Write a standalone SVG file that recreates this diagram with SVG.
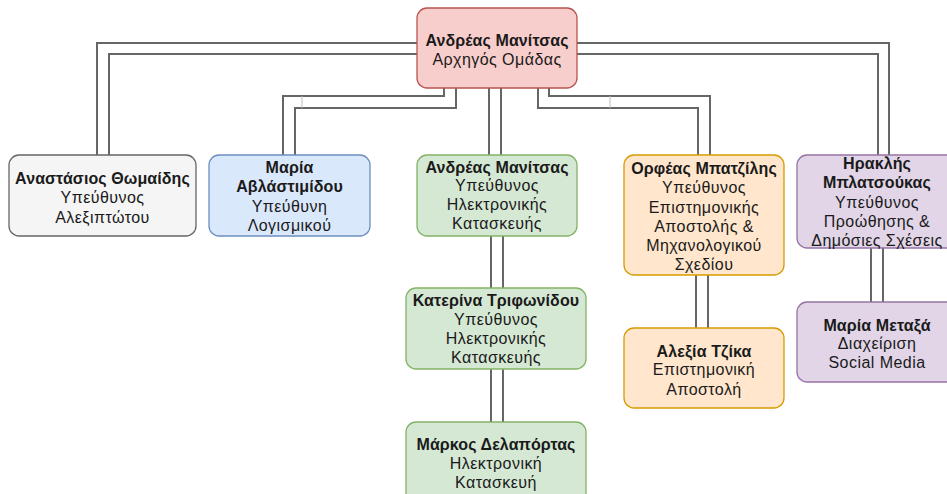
<svg xmlns="http://www.w3.org/2000/svg" width="947" height="494" viewBox="0 0 947 494">
<style>
.t{font-family:"Liberation Sans",Arial,sans-serif;font-size:16px;letter-spacing:0.45px;fill:#1a1a1a;text-anchor:middle}
.b{font-weight:bold;letter-spacing:0.1px}
.c{fill:none;stroke:#666;stroke-width:2}
.j{fill:none;stroke:#bbb;stroke-width:1}
.red{fill:#f8cecc;stroke:#b85450;stroke-width:1.3}
.gray{fill:#f5f5f5;stroke:#666;stroke-width:1.3}
.blue{fill:#dae8fc;stroke:#6c8ebf;stroke-width:1.3}
.green{fill:#d5e8d4;stroke:#82b366;stroke-width:1.3}
.orange{fill:#ffe6cc;stroke:#d79b00;stroke-width:1.3}
.purple{fill:#e1d5e7;stroke:#9673a6;stroke-width:1.3}
</style>
<rect width="947" height="494" fill="#fff"/>
<g id="connectors">
  <path class="c" d="M417 43 H97 V155"/>
  <path class="c" d="M417 54 H109 V155"/>
  <path class="c" d="M444 88 V96 H283 V155"/>
  <path class="c" d="M456 88 V108 H295 V155"/>
  <path class="j" d="M302 96 V108"/>
  <path class="c" d="M489 88 V155"/>
  <path class="c" d="M501 88 V155"/>
  <path class="c" d="M538 88 V108 H698 V155"/>
  <path class="c" d="M549 88 V96 H710 V155"/>
  <path class="j" d="M610 96 V108"/>
  <path class="c" d="M577 43 H889 V155"/>
  <path class="c" d="M577 54 H878 V155"/>
  <path class="c" d="M491 236 V288"/>
  <path class="c" d="M503 236 V288"/>
  <path class="c" d="M491 369 V422"/>
  <path class="c" d="M503 369 V422"/>
  <path class="c" d="M696 275 V328"/>
  <path class="c" d="M708 275 V328"/>
  <path class="c" d="M871 248 V302"/>
  <path class="c" d="M883 248 V302"/>
</g>
<g id="root">
  <rect class="red" x="417" y="8" width="160" height="80" rx="10"/>
  <text class="t"><tspan class="b" x="497" y="45.5">Ανδρέας Μανίτσας</tspan><tspan x="497" y="64.5">Αρχηγός Ομάδας</tspan></text>
</g>
<g id="anastasios">
  <rect class="gray" x="9" y="155" width="187" height="81" rx="10"/>
  <text class="t"><tspan class="b" x="102.5" y="183.5">Αναστάσιος Θωμαίδης</tspan><tspan x="102.5" y="202.5">Υπεύθυνος</tspan><tspan x="102.5" y="222.5">Αλεξιπτώτου</tspan></text>
</g>
<g id="maria-a">
  <rect class="blue" x="209" y="155" width="161" height="81" rx="10"/>
  <text class="t"><tspan class="b" x="289.5" y="172.5">Μαρία</tspan><tspan class="b" x="289.5" y="191.5">Αβλάστιμίδου</tspan><tspan x="289.5" y="211.5">Υπεύθυνη</tspan><tspan x="289.5" y="230.5">Λογισμικού</tspan></text>
</g>
<g id="andreas-green">
  <rect class="green" x="417" y="155" width="160" height="81" rx="10"/>
  <text class="t"><tspan class="b" x="497" y="172.5">Ανδρέας Μανίτσας</tspan><tspan x="497" y="190.5">Υπεύθυνος</tspan><tspan x="497" y="209.5">Ηλεκτρονικής</tspan><tspan x="497" y="228.5">Κατασκευής</tspan></text>
</g>
<g id="orfeas">
  <rect class="orange" x="624" y="155" width="160" height="120" rx="10"/>
  <text class="t"><tspan class="b" x="704" y="173.5">Ορφέας Μπατζίλης</tspan><tspan x="704" y="192.5">Υπεύθυνος</tspan><tspan x="704" y="212.5">Επιστημονικής</tspan><tspan x="704" y="231.5">Αποστολής &amp;</tspan><tspan x="704" y="250.5">Μηχανολογικού</tspan><tspan x="704" y="269.5">Σχεδίου</tspan></text>
</g>
<g id="iraklis">
  <rect class="purple" x="797" y="155" width="160" height="93" rx="10"/>
  <text class="t"><tspan class="b" x="877" y="168.5">Ηρακλής</tspan><tspan class="b" x="877" y="187.5">Μπλατσούκας</tspan><tspan x="877" y="207.5">Υπεύθυνος</tspan><tspan x="877" y="226.5">Προώθησης &amp;</tspan><tspan x="877" y="245.5">Δημόσιες Σχέσεις</tspan></text>
</g>
<g id="katerina">
  <rect class="green" x="406" y="288" width="180" height="81" rx="10"/>
  <text class="t"><tspan class="b" x="496" y="305.5">Κατερίνα Τριφωνίδου</tspan><tspan x="496" y="324.5">Υπεύθυνος</tspan><tspan x="496" y="343.5">Ηλεκτρονικής</tspan><tspan x="496" y="362.5">Κατασκευής</tspan></text>
</g>
<g id="markos">
  <rect class="green" x="406" y="422" width="180" height="81" rx="10"/>
  <text class="t"><tspan class="b" x="496" y="449.5">Μάρκος Δελαπόρτας</tspan><tspan x="496" y="468.5">Ηλεκτρονική</tspan><tspan x="496" y="487.5">Κατασκευή</tspan></text>
</g>
<g id="alexia">
  <rect class="orange" x="624" y="328" width="160" height="80" rx="10"/>
  <text class="t"><tspan class="b" x="704" y="356.5">Αλεξία Τζίκα</tspan><tspan x="704" y="374.5">Επιστημονική</tspan><tspan x="704" y="394.5">Αποστολή</tspan></text>
</g>
<g id="maria-m">
  <rect class="purple" x="797" y="302" width="160" height="80" rx="10"/>
  <text class="t"><tspan class="b" x="877" y="330.5">Μαρία Μεταξά</tspan><tspan x="877" y="348.5">Διαχείριση</tspan><tspan x="877" y="367.5">Social Media</tspan></text>
</g>
</svg>
